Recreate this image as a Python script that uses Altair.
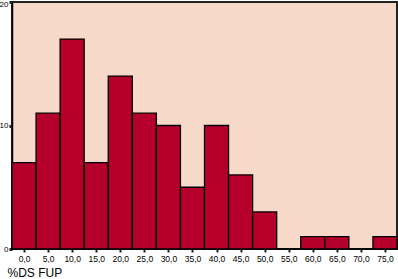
import altair as alt
import pandas as pd

bin_centers = [0, 5, 10, 15, 20, 25, 30, 35, 40, 45, 50, 55, 60, 65, 70, 75]
counts = [7, 11, 17, 7, 14, 11, 10, 5, 10, 6, 3, 0, 1, 1, 0, 1]

df = pd.DataFrame({"center": bin_centers, "count": counts})
df["lo"] = df["center"] - 2.5
df["hi"] = df["center"] + 2.5
df["base"] = 0

bars = alt.Chart(df).mark_bar(
    color="#B4002A", stroke="#000000", strokeWidth=1.3
).encode(
    x=alt.X("lo:Q", scale=alt.Scale(domain=[-2.5, 77.5], nice=False, zero=False),
            axis=alt.Axis(values=bin_centers, title="%DS FUP",
                          labelExpr="replace(format(datum.value, '.1f'), '.', ',')",
                          labelFont="Liberation Sans", labelFontSize=8.5, labelColor="#000",
                          labelPadding=2, tickSize=3, tickWidth=2, tickColor="#222",
                          domain=False, grid=False,
                          titleFont="Liberation Sans", titleFontSize=12, titleFontWeight="normal",
                          titleColor="#000", titleAnchor="start", titleAlign="left",
                          titleX=-5, titleY=27, titleBaseline="alphabetic")),
    x2="hi:Q",
    y=alt.Y("count:Q", scale=alt.Scale(domain=[0, 20], nice=False),
            axis=alt.Axis(values=[0, 10, 20], title=None, labelFont="Liberation Sans",
                          labelFontSize=8, labelColor="#000", labelPadding=1,
                          labelOffset=alt.condition("datum.value == 20", alt.value(2), alt.value(0)),
                          tickSize=3, tickWidth=3, tickColor="#222",
                          domain=True, domainColor="#000", domainWidth=1.5, grid=False)),
    y2="base:Q",
)

chart = bars.properties(
    width=385, height=247,
    autosize=alt.AutoSizeParams(type="none"),
    padding={"left": 12, "top": 2, "right": 1, "bottom": 30},
    background="#FFFFFF",
).configure_view(fill="#F6D9C8", stroke="#222222", strokeWidth=2)

chart.save("out.html", embed_options={"renderer": "svg", "actions": False})
